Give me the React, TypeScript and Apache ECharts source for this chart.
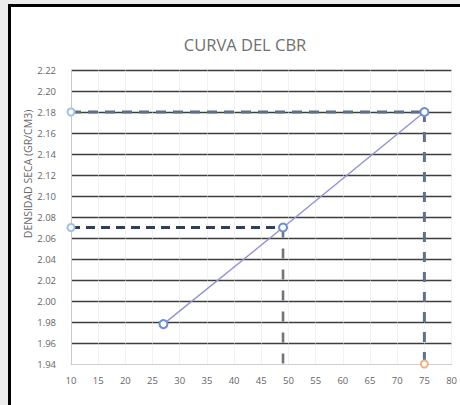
import React, { useEffect, useRef } from "react";
import * as echarts from "echarts";

const TITLE = "CURVA DEL CBR";
const Y_NAME = "DENSIDAD SECA (GR/CM3)";

// main CBR curve: [CBR %, dry density]
const curveX = [27, 49, 75];
const curveY = [1.978, 2.07, 2.18];

// reference lines
const densityMax = 2.18;
const density95 = 2.07;
const cbrAt95 = 49;
const cbrAt100 = 75;
const xStart = 10;
const yBottom = 1.94;

const X_MIN = 10;
const X_MAX = 80;
const X_STEP = 5;
const Y_MIN = 1.94;
const Y_MAX = 2.22;
const Y_STEP = 0.02;

const FONT = "Open Sans";

export default function App() {
  const ref = useRef<HTMLDivElement>(null);

  useEffect(() => {
    if (!ref.current) return;
    const chart = echarts.init(ref.current, null, { renderer: "svg" });
    const curve = curveX.map((x, i) => [x, curveY[i]]);
    const option: any = {
      animation: false,
      backgroundColor: "#ececec",
      textStyle: { fontFamily: FONT },
      graphic: [
        {
          type: "rect",
          z: -10,
          silent: true,
          shape: { x: 9.5, y: 5.5, width: 470, height: 420 },
          style: { fill: "#ffffff", stroke: "#000000", lineWidth: 3 },
        },
        {
          type: "text",
          x: 245,
          y: 44,
          style: {
            text: TITLE,
            fill: "#707070",
            font: `16.5px "${FONT}"`,
            align: "center",
            verticalAlign: "middle",
          },
        },
        {
          type: "text",
          x: 28,
          y: 174,
          rotation: Math.PI / 2,
          style: {
            text: Y_NAME,
            fill: "#6a6a6a",
            font: `10.5px "${FONT}"`,
            align: "center",
            verticalAlign: "middle",
          },
        },
      ],
      grid: { left: 71, right: 7, top: 70, bottom: 41 },
      xAxis: {
        type: "value",
        min: X_MIN,
        max: X_MAX,
        interval: X_STEP,
        axisLine: { show: true, lineStyle: { color: "#d0d0d0", width: 1 } },
        axisTick: { show: false },
        axisLabel: { color: "#666666", fontSize: 9.5, margin: 11, fontFamily: FONT },
        splitLine: {
          show: true,
          lineStyle: { color: ["#e4e4e4"], width: 0.8, opacity: 0.6 },
        },
      },
      yAxis: {
        type: "value",
        min: Y_MIN,
        max: Y_MAX,
        interval: Y_STEP,
        axisLine: { show: true, lineStyle: { color: "#c8c8c8", width: 1 } },
        axisTick: { show: false },
        axisLabel: {
          color: "#666666",
          fontSize: 9.5,
          margin: 15,
          fontFamily: FONT,
          formatter: (v: number) => v.toFixed(2),
        },
        splitLine: {
          show: true,
          showMinLine: false,
          lineStyle: { color: "#3d3d3d", width: 1.3 },
        },
      },
      series: [
        {
          type: "line",
          data: [
            [xStart, densityMax],
            [cbrAt100, densityMax],
          ],
          clip: false,
          z: 3,
          symbol: "emptyCircle",
          symbolSize: 7,
          showAllSymbol: true,
          itemStyle: { color: "#9dc3e6", borderWidth: 2 },
          lineStyle: { color: "#5b6f8c", width: 3.2, type: [10, 7] },
        },
        {
          type: "line",
          data: [
            [xStart, density95],
            [cbrAt95, density95],
          ],
          clip: false,
          z: 3,
          symbol: "emptyCircle",
          symbolSize: 7,
          itemStyle: { color: "#9dc3e6", borderWidth: 2 },
          lineStyle: { color: "#2c3f5c", width: 3.2, type: [9, 6] },
        },
        {
          type: "line",
          data: [
            [cbrAt95, density95],
            [cbrAt95, yBottom],
          ],
          clip: false,
          z: 3,
          symbol: "none",
          lineStyle: { color: "#6f757d", width: 2.6, type: [10, 11] },
        },
        {
          type: "line",
          data: [
            { value: [cbrAt100, densityMax], symbol: "none" },
            { value: [cbrAt100, yBottom], symbol: "emptyCircle" },
          ],
          clip: false,
          z: 3,
          symbolSize: 7,
          showAllSymbol: true,
          itemStyle: { color: "#f4b183", borderWidth: 2 },
          lineStyle: { color: "#5e7288", width: 3, type: [10, 10] },
        },
        {
          type: "line",
          data: curve,
          clip: false,
          z: 5,
          symbol: "emptyCircle",
          symbolSize: 8,
          itemStyle: { color: "#6e8fd2", borderWidth: 2 },
          lineStyle: { color: "#9394d6", width: 1.5 },
        },
      ],
    };
    chart.setOption(option);
    return () => chart.dispose();
  }, []);

  return (
    <div
      ref={ref}
      style={{ position: "fixed", left: 0, top: 0, width: 460, height: 405 }}
    />
  );
}
